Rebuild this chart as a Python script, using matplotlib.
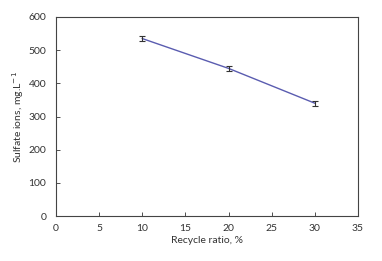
import matplotlib.pyplot as plt

plt.rcParams['font.family'] = ['Lato', 'DejaVu Sans']

recycle = [10, 20, 30]
sulfate = [535, 445, 340]
err = [8, 7, 8]

fig = plt.figure(figsize=(3.82, 2.61), dpi=100)
ax = fig.add_axes([56/382, 45/261, 302/382, 199/261])

ax.plot(recycle, sulfate, color='#5a5cb0', lw=1.0, zorder=2)
ax.errorbar(recycle, sulfate, yerr=err, fmt='none', ecolor='#333333',
            elinewidth=0.8, capsize=2.2, capthick=0.8, zorder=3)

ax.set_xlim(0, 35)
ax.set_ylim(0, 600)
ax.set_xticks(range(0, 36, 5))
ax.set_yticks(range(0, 601, 100))
ax.tick_params(direction='in', length=3, width=0.6, labelsize=7.5,
               colors='#333333')
ax.tick_params(axis='x', pad=6)
ax.tick_params(axis='y', pad=7)
for s in ax.spines.values():
    s.set_linewidth(0.8)
    s.set_color('#444444')

ax.set_xlabel('Recycle ratio, %', fontsize=7.5, labelpad=2, color='#333333')
ax.set_ylabel('Sulfate ions, mg.L$^{-1}$', fontsize=7.5, labelpad=2, color='#333333')

fig.savefig('out.png', dpi=100)
